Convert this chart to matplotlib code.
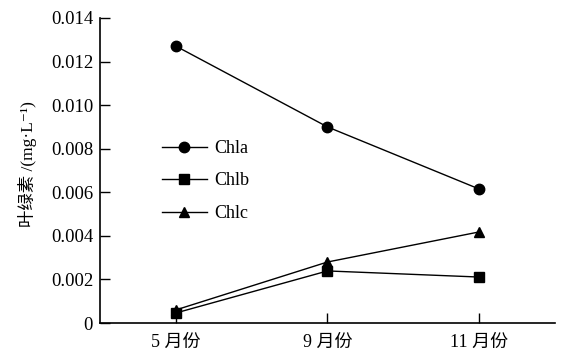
import matplotlib.pyplot as plt

plt.rcParams['font.family'] = ['Liberation Serif', 'Noto Sans CJK SC', 'DejaVu Serif']
plt.rcParams['axes.unicode_minus'] = False

months = ['5 月份', '9 月份', '11 月份']
chla = [0.01271, 0.0090, 0.00615]
chlb = [0.00046, 0.00239, 0.00211]
chlc = [0.00060, 0.00280, 0.00418]
yticks = [0, 0.002, 0.004, 0.006, 0.008, 0.010, 0.012, 0.014]
ytick_labels = ['0', '0.002', '0.004', '0.006', '0.008', '0.010', '0.012', '0.014']

fig = plt.figure(figsize=(5.73, 3.64), dpi=100)
ax = fig.add_axes([0.1745, 0.1126, 0.794, 0.838])

x = range(len(months))
ax.plot(x, chla, color='black', lw=1, marker='o', ms=7.5, label='Chla')
ax.plot(x, chlb, color='black', lw=1, marker='s', ms=7, label='Chlb')
ax.plot(x, chlc, color='black', lw=1, marker='^', ms=7.5, label='Chlc')

ax.set_xlim(-0.5, 2.5)
ax.set_ylim(0, 0.014)
ax.set_xticks(list(x))
ax.set_xticklabels(months, fontsize=13)
ax.set_yticks(yticks)
ax.set_yticklabels(ytick_labels, fontsize=13.5)
ax.tick_params(direction='in', length=7, width=1, color='black', pad=5)
ax.tick_params(axis='x', pad=8)
ax.set_ylabel('叶绿素 /(mg·L⁻¹)', fontsize=12.5)
ax.yaxis.set_label_coords(-0.138, 0.52)

ax.spines['top'].set_visible(False)
ax.spines['right'].set_visible(False)
ax.spines['left'].set_linewidth(1.2)
ax.spines['bottom'].set_linewidth(1.2)

ax.legend(loc='center left', bbox_to_anchor=(0.136, 0.4656), frameon=False,
          fontsize=13, handlelength=2.5, handletextpad=0.4, labelspacing=0.85,
          borderpad=0, borderaxespad=0)

fig.savefig('out.png', dpi=100)
